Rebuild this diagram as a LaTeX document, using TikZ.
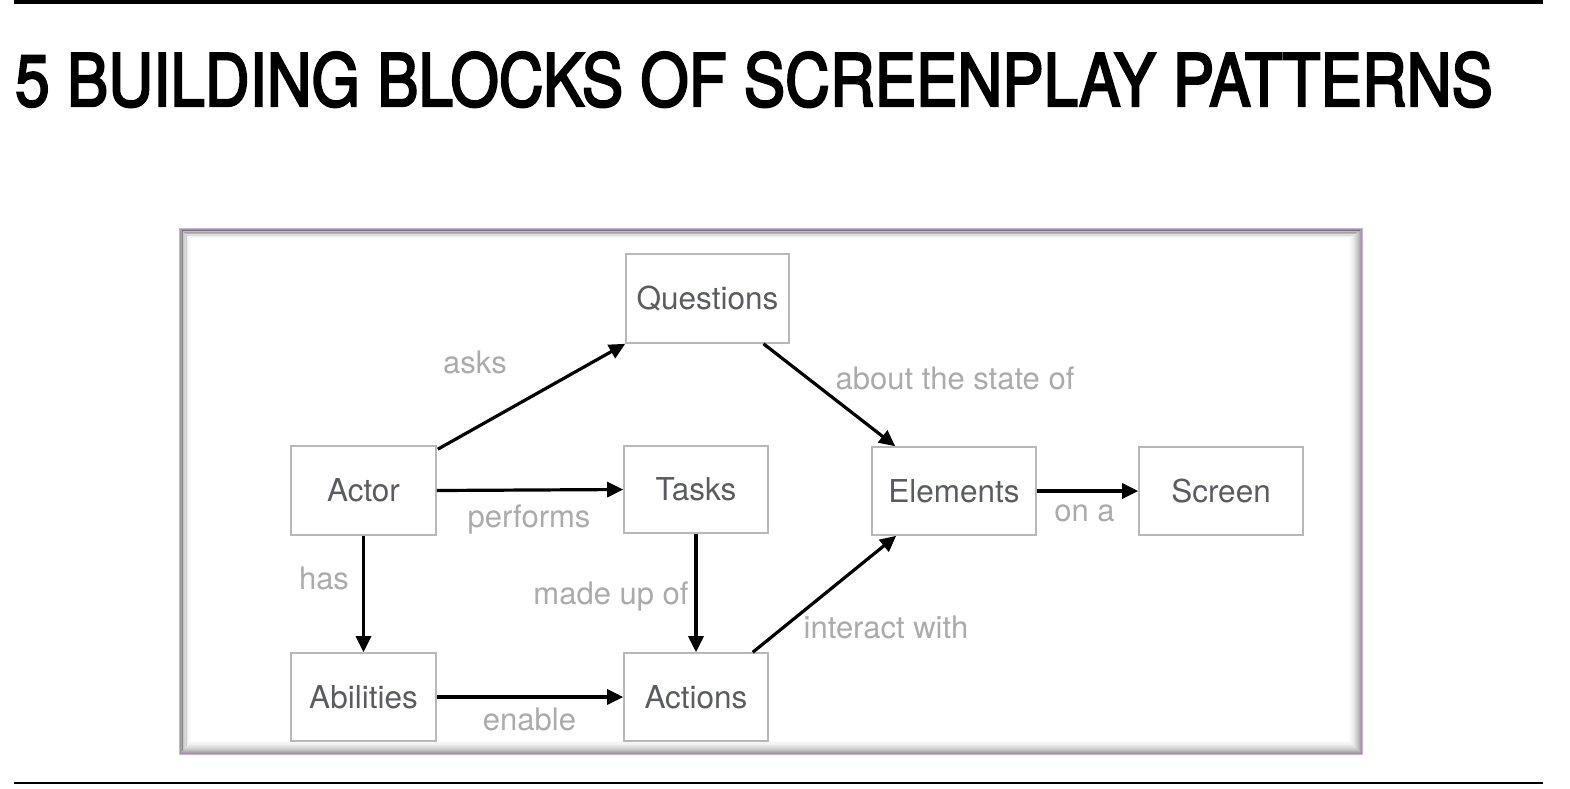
\documentclass[tikz,border=0pt]{standalone}
\usepackage{fontspec}
\setmainfont{TeX Gyre Heros}
\newfontfamily\titlefont[FakeBold=3.2]{TeX Gyre Heros}
\usetikzlibrary{arrows.meta,calc}
\definecolor{boxline}{HTML}{B8B8B8}
\definecolor{boxtext}{HTML}{5B5C63}
\definecolor{labeltext}{HTML}{ABABAB}
\definecolor{framec}{HTML}{CDAEDF}
\begin{document}
\begin{tikzpicture}[x=1pt,y=-1pt,
  block/.style={draw=boxline, line width=1.6pt, fill=white, text=boxtext,
    font=\fontsize{31.5}{36}\selectfont, inner sep=0pt, rectangle},
  lbl/.style={text=labeltext, font=\fontsize{31}{36}\selectfont, inner sep=0pt, anchor=base},
  conn/.style={draw=black, line width=3.2pt, -{Triangle[length=16pt,width=15pt]}},
  rule/.style={fill=black}
]
\useasboundingbox (0,0) rectangle (1570,788);
\fill[white] (0,0) rectangle (1570,788);

% rules
\fill[rule] (14,0) rectangle (1543,4);
\fill[rule] (14,781.5) rectangle (1543,784);

% title
\node[anchor=base west, inner sep=0pt] (title) at (15,106)
  {\resizebox{1477pt}{54pt}{\titlefont 5 BUILDING BLOCKS OF SCREENPLAY PATTERNS}};

% frame with inner shadow
\fill[white] (179.5,228.5) rectangle (1362.5,754.5);
\foreach \i in {0,...,14}{
  \pgfmathsetmacro\op{0.4*(1-\i/15)^2}
  \draw[black, opacity=\op, line width=1.1pt] (180.5+\i*0.8,229.5+\i*0.7) rectangle (1361.5-\i,753.5-\i);
}
\draw[framec, line width=1.3pt] (179.5,228.5) rectangle (1362.5,754.5);

% blocks
\node[block, minimum width=163pt, minimum height=89pt] (questions) at (707.5,298.5) {Questions};
\node[block, minimum width=145pt, minimum height=89pt] (actor) at (363.5,490.5) {Actor};
\node[block, minimum width=144pt, minimum height=87pt] (tasks) at (696,489.5) {Tasks};
\node[block, minimum width=164pt, minimum height=88pt] (elements) at (954,491) {Elements};
\node[block, minimum width=164pt, minimum height=88pt] (screen) at (1221,491) {Screen};
\node[block, minimum width=145pt, minimum height=88pt] (abilities) at (363.5,697) {Abilities};
\node[block, minimum width=144pt, minimum height=88pt] (actions) at (696,697) {Actions};

% connectors
\draw[conn] ($(actor.north east)+(1,4)$) -- (questions.south west);
\draw[conn] (actor.east) -- (tasks.west);
\draw[conn] ($(questions.south)+(56,0)$) -- ($(elements.north west)+(24,0)$);
\draw[conn] (elements.east) -- (screen.west);
\draw[conn] (actor.south) -- (abilities.north);
\draw[conn] (tasks.south) -- (actions.north);
\draw[conn] (abilities.east) -- (actions.west);
\draw[conn] ($(actions.north east)+(-16,0)$) -- ($(elements.south west)+(25,0)$);

% labels
\node[lbl] (l-asks) at (475,373) {asks};
\node[lbl] (l-performs) at (529,527) {performs};
\node[lbl] (l-about) at (955,389) {about the state of};
\node[lbl] (l-ona) at (1084.5,521) {on a};
\node[lbl] (l-has) at (324,589) {has};
\node[lbl] (l-made) at (611,604) {made up of};
\node[lbl] (l-enable) at (529.5,730) {enable};
\node[lbl] (l-interact) at (886,638) {interact with};
\end{tikzpicture}
\end{document}
